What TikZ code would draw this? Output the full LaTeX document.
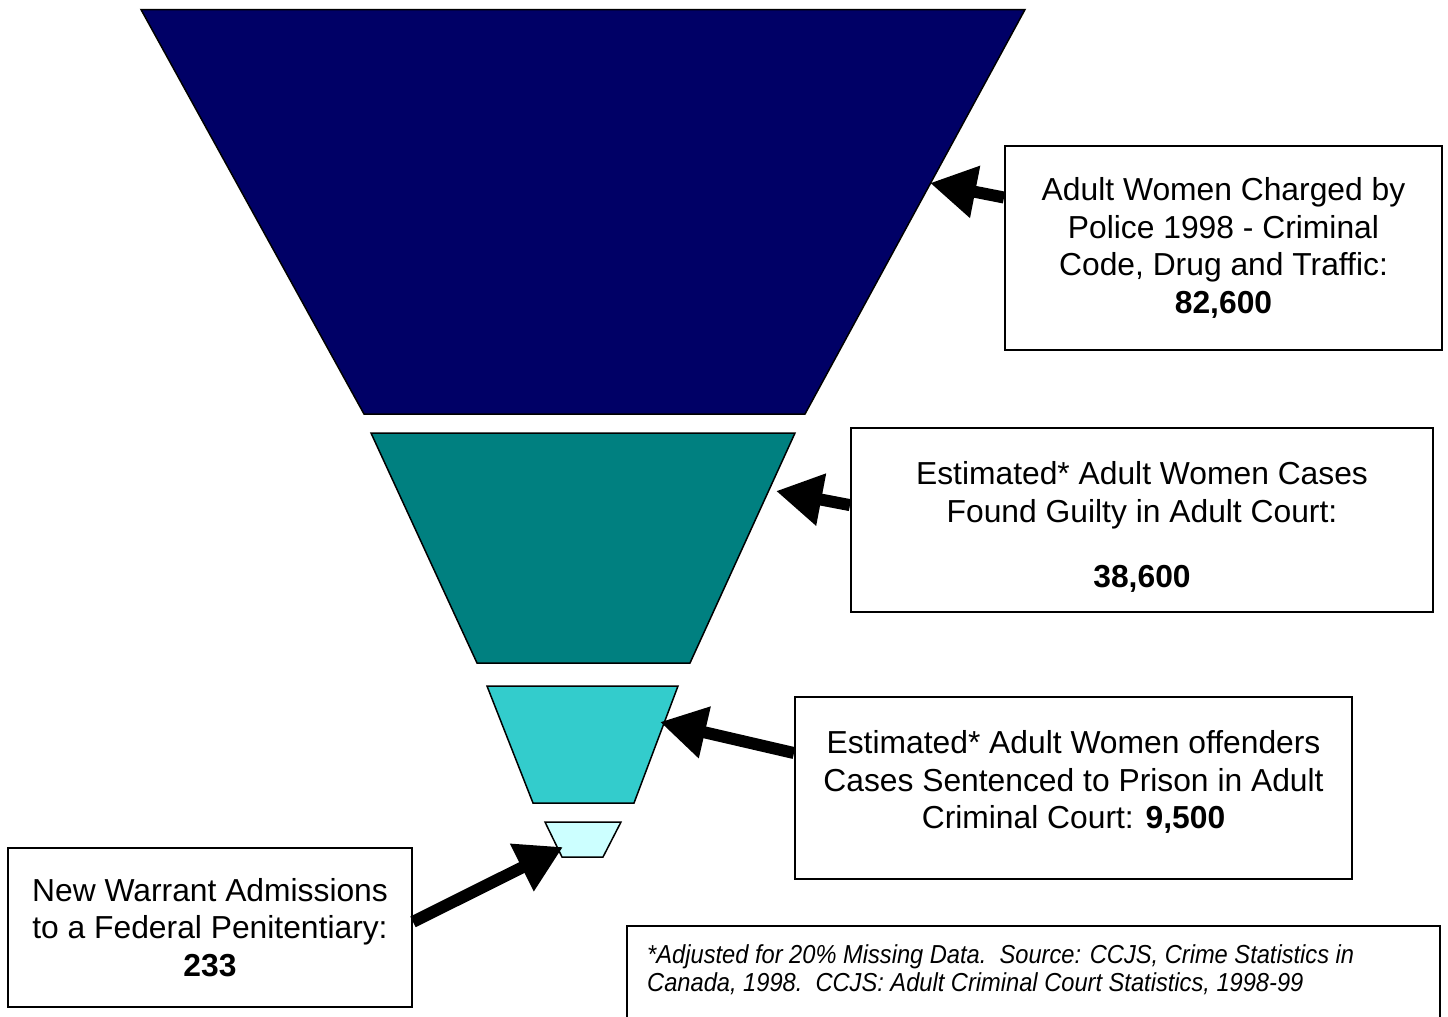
\documentclass[tikz,border=0pt]{standalone}
\usepackage{fontspec}
\setmainfont{Liberation Sans}
\newfontfamily\narrowsans[FakeStretch=0.91]{Liberation Sans}
\usetikzlibrary{arrows.meta,calc}
\definecolor{navyfill}{HTML}{000066}
\definecolor{tealfill}{HTML}{008080}
\definecolor{cyanfill}{HTML}{33CCCC}
\definecolor{lightfill}{HTML}{CCFFFF}
\tikzset{
  funnel/.style={draw=black, line width=1.5pt, line join=miter},
  infobox/.style={draw=black, line width=2pt, fill=white, inner sep=0pt, align=center,
    font=\fontsize{31.8}{37.6}\selectfont},
  boxtext/.style={inner sep=0pt, align=center, font=\fontsize{31.8}{37.6}\selectfont},
  bigarrow/.style={line width=12pt, -{Triangle[length=46pt,width=50pt]}, black}
}
\begin{document}
\begin{tikzpicture}[x=1pt,y=-1pt]
\useasboundingbox (0,0) rectangle (1448,1017);
% funnel segments
\draw[funnel, fill=navyfill] (141,9.5) -- (1025,9.5) -- (805,414) -- (364,414) -- cycle;
\draw[funnel, fill=tealfill] (371,433) -- (795,433) -- (690,663) -- (477,663) -- cycle;
\draw[funnel, fill=cyanfill] (487,686) -- (678,686) -- (634,803) -- (533,803) -- cycle;
\draw[funnel, fill=lightfill] (545,822) -- (621,822) -- (603,857) -- (562,857) -- cycle;
% tip coordinates on the funnel
\coordinate (tip1) at (930,183);
\coordinate (tip2) at (776,491);
\coordinate (tip3) at (660,722);
\coordinate (tip4) at (563,847);
% boxes
\node[infobox, minimum width=437pt, minimum height=204pt] (b1) at (1223.5,248)
  {Adult Women Charged by\\Police 1998 - Criminal\\Code, Drug and Traffic:\\\textbf{82,600}};
\node[infobox, minimum width=582pt, minimum height=184pt] (b2) at (1142,520) {};
\node[boxtext] (t2) at (1142,527)
  {Estimated* Adult Women Cases\\Found Guilty in Adult Court:\\[27pt]\textbf{38,600}};
\node[infobox, minimum width=557pt, minimum height=182pt] (b3) at (1073.5,788) {};
\node[boxtext] (t3) at (1073.5,782)
  {Estimated* Adult Women offenders\\Cases Sentenced to Prison in Adult\\Criminal Court: \textbf{9,500}};
\node[infobox, minimum width=404pt, minimum height=159pt] (b4) at (210,927.5)
  {New Warrant Admissions\\to a Federal Penitentiary:\\\textbf{233}};
\node[draw=black, line width=2pt, inner sep=0pt, minimum width=813pt, minimum height=110pt] (b5) at (1033.5,981) {};
\node[anchor=north west, inner sep=0pt, align=left, font=\narrowsans\fontsize{26}{28}\selectfont\itshape] (note) at (647,944)
  {*Adjusted for 20\% Missing Data.\ \ Source: CCJS, Crime Statistics in\\Canada, 1998.\ \ CCJS: Adult Criminal Court Statistics, 1998-99};
% arrows
\draw[bigarrow] ($(b1.north west)!0.255!(b1.south west)$) -- (tip1);
\draw[bigarrow] ($(b2.north west)!0.42!(b2.south west)$) -- (tip2);
\draw[bigarrow] ($(b3.north west)!0.31!(b3.south west)$) -- (tip3);
\draw[bigarrow] ($(b4.north east)!0.465!(b4.south east)$) -- (tip4);
\end{tikzpicture}
\end{document}
